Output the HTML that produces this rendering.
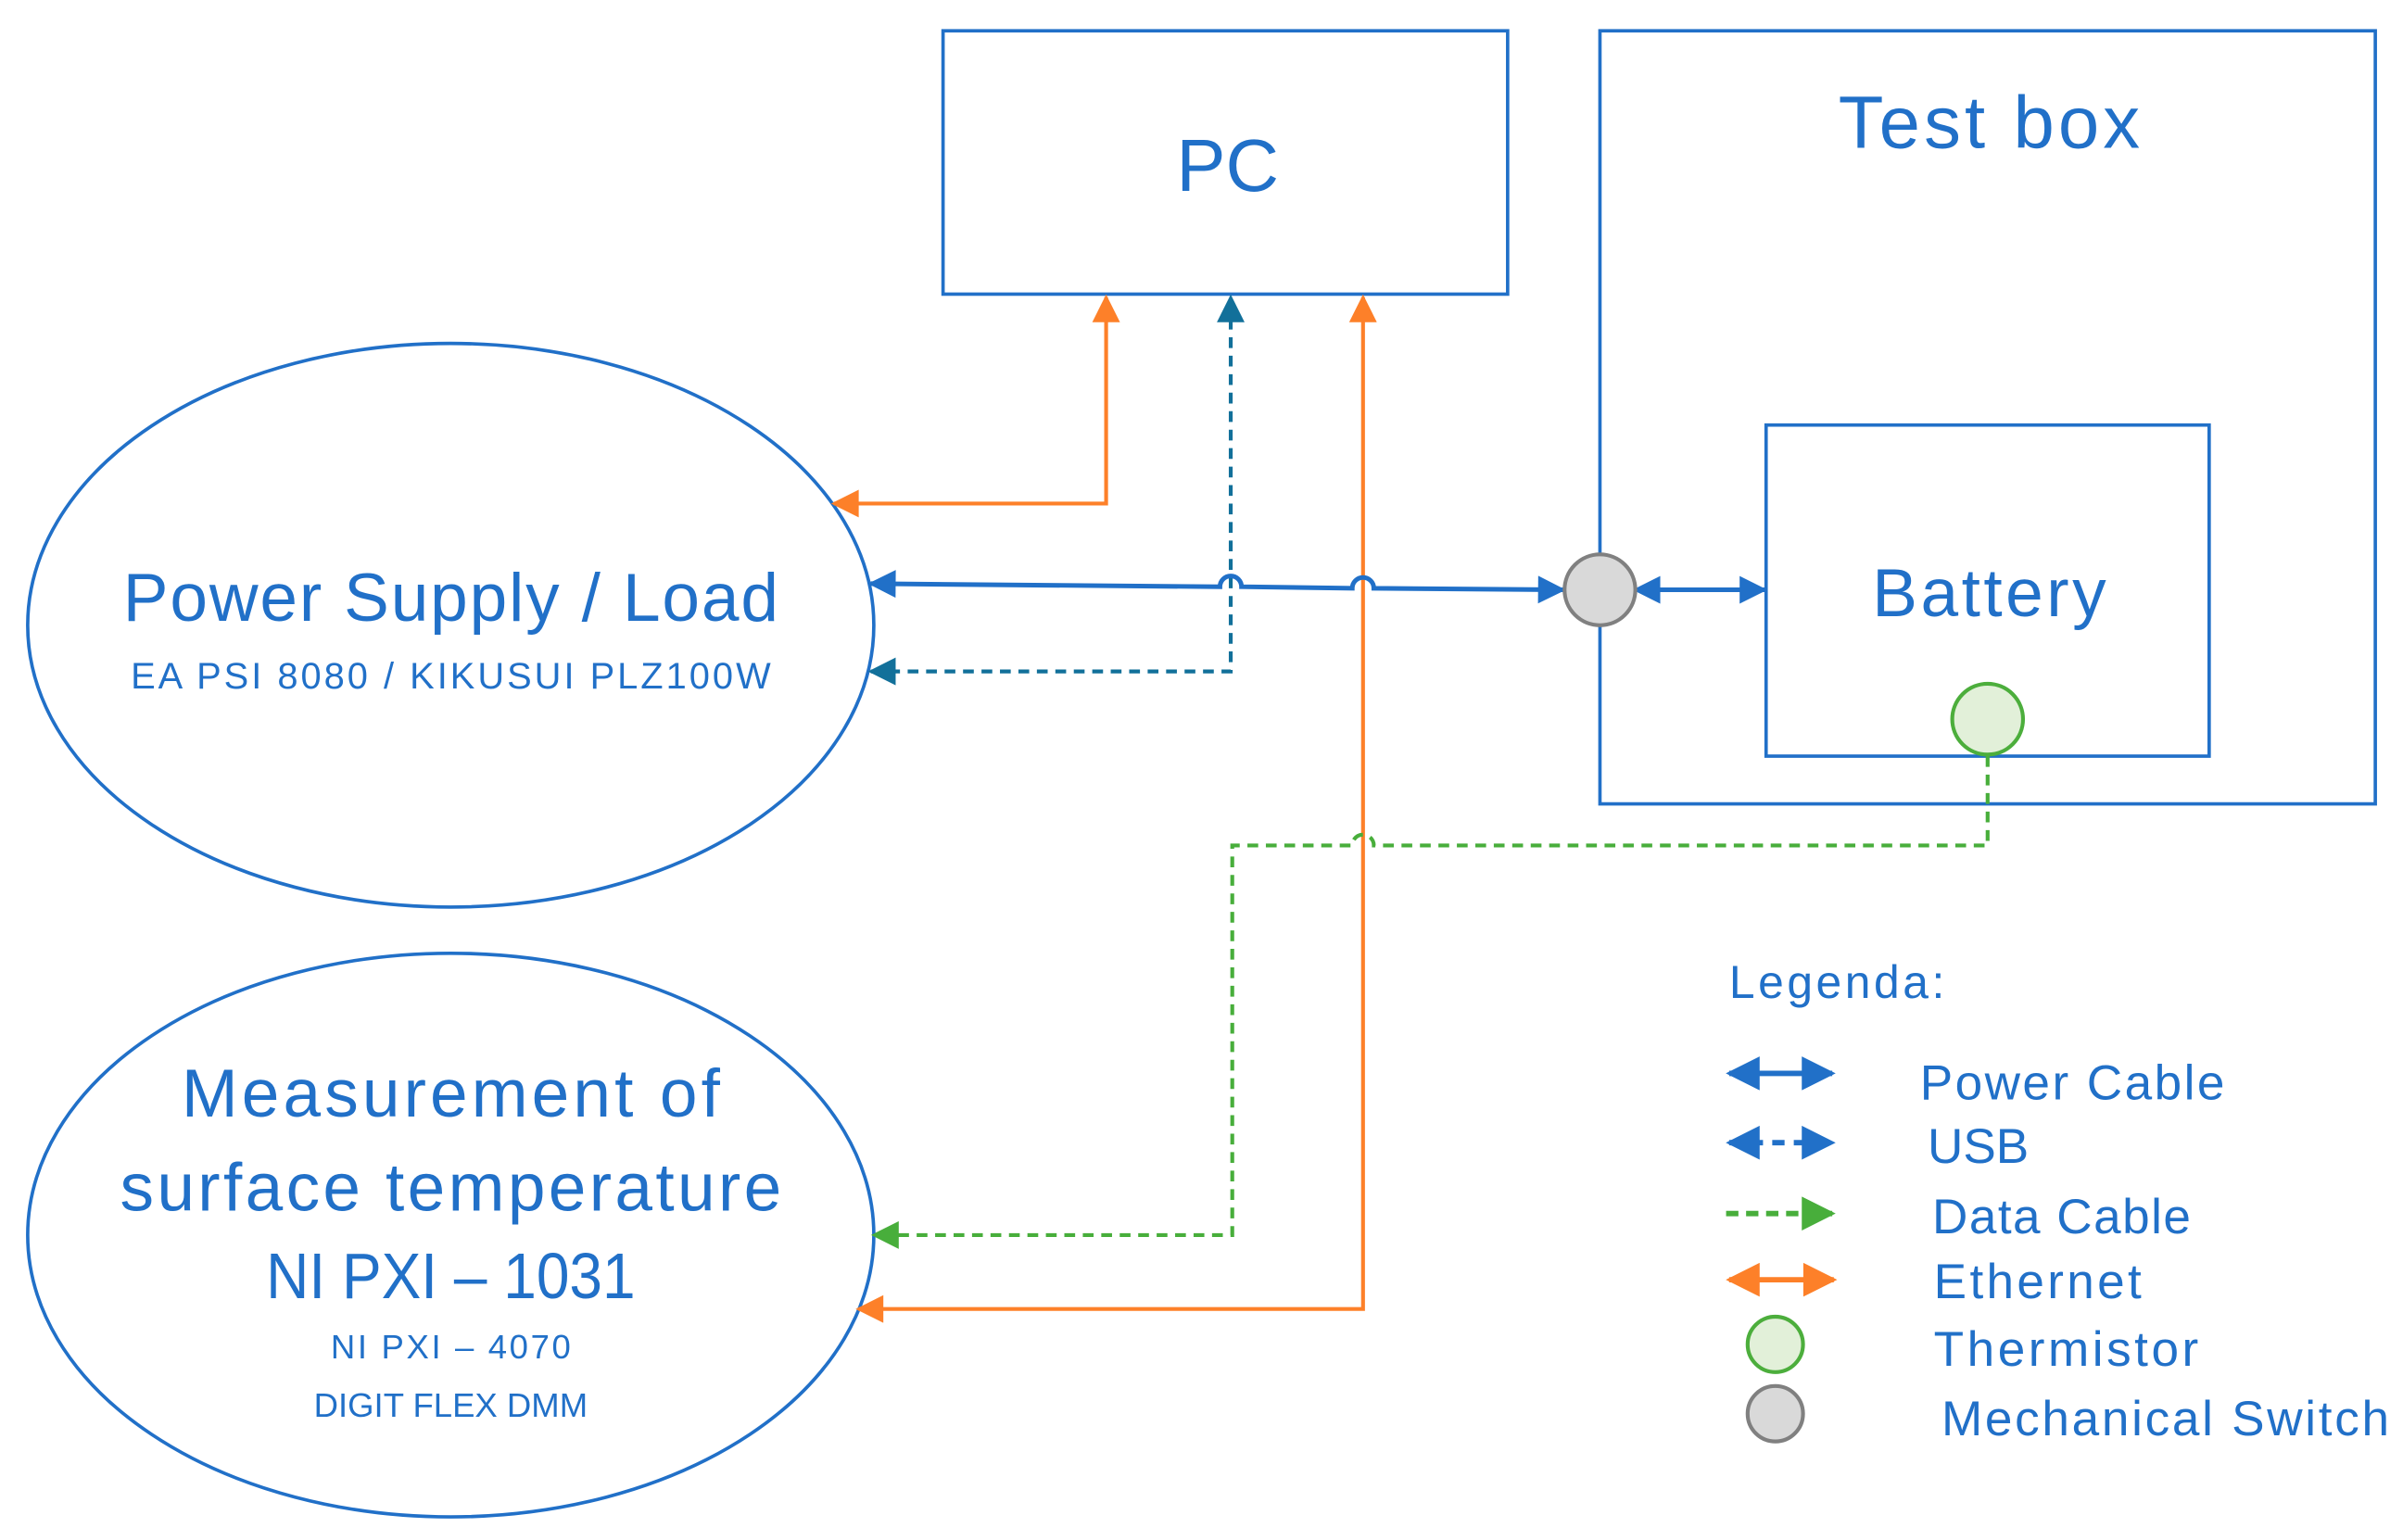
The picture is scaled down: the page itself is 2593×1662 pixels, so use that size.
<!DOCTYPE html>
<html><head><meta charset="utf-8"><style>html,body{margin:0;padding:0;background:#fff}svg{display:block}</style></head>
<body>
<svg width="2593" height="1662" viewBox="0 0 1562 1000" preserveAspectRatio="none" xmlns="http://www.w3.org/2000/svg" font-family="Liberation Sans, sans-serif" fill="#2170c8">
<defs>
<marker id="ab" viewBox="0 0 10 10" refX="9" refY="5" markerWidth="20" markerHeight="18" orient="auto-start-reverse" markerUnits="userSpaceOnUse"><path d="M0,0L10,5L0,10z" fill="#2170c8"/></marker>
<marker id="ao" viewBox="0 0 10 10" refX="9" refY="5" markerWidth="20" markerHeight="18" orient="auto-start-reverse" markerUnits="userSpaceOnUse"><path d="M0,0L10,5L0,10z" fill="#fd8029"/></marker>
<marker id="at" viewBox="0 0 10 10" refX="9" refY="5" markerWidth="20" markerHeight="18" orient="auto-start-reverse" markerUnits="userSpaceOnUse"><path d="M0,0L10,5L0,10z" fill="#12709a"/></marker>
<marker id="ag" viewBox="0 0 10 10" refX="9" refY="5" markerWidth="20" markerHeight="18" orient="auto-start-reverse" markerUnits="userSpaceOnUse"><path d="M0,0L10,5L0,10z" fill="#48ae3b"/></marker>
<marker id="lb" viewBox="0 0 10 10" refX="9" refY="5" markerWidth="24" markerHeight="22" orient="auto-start-reverse" markerUnits="userSpaceOnUse"><path d="M0,0L10,5L0,10z" fill="#2170c8"/></marker>
<marker id="lo" viewBox="0 0 10 10" refX="9" refY="5" markerWidth="24" markerHeight="22" orient="auto-start-reverse" markerUnits="userSpaceOnUse"><path d="M0,0L10,5L0,10z" fill="#fd8029"/></marker>
<marker id="lg" viewBox="0 0 10 10" refX="9" refY="5" markerWidth="24" markerHeight="22" orient="auto-start-reverse" markerUnits="userSpaceOnUse"><path d="M0,0L10,5L0,10z" fill="#48ae3b"/></marker>
</defs>
<g fill="none" stroke="#2170c8" stroke-width="2.2">
<rect x="613" y="20" width="367" height="171"/>
<rect x="1040" y="20" width="504" height="502"/>
<rect x="1148" y="276" width="288" height="215"/>
<ellipse cx="293" cy="406" rx="275" ry="183"/>
<ellipse cx="293" cy="802" rx="275" ry="183"/>
</g>
<g fill="none" stroke-width="2.5">
<path d="M542,327H719V193" stroke="#fd8029" marker-start="url(#ao)" marker-end="url(#ao)"/>
<path d="M566,436H800V193" stroke="#12709a" stroke-dasharray="7,5" marker-start="url(#at)" marker-end="url(#at)"/>
<path d="M558,850H886V193" stroke="#fd8029" marker-start="url(#ao)" marker-end="url(#ao)"/>
<path d="M566,379L793,381A7,7 0 0 1 807,381L879,382A7,7 0 0 1 893,382L1016,383" stroke="#2170c8" stroke-width="3" marker-start="url(#ab)" marker-end="url(#ab)"/>
<path d="M1063,383H1147" stroke="#2170c8" stroke-width="3" marker-start="url(#ab)" marker-end="url(#ab)"/>
<path d="M1292,491V549H893A7,7 0 0 0 879,549H801V802H568" stroke="#48ae3b" stroke-dasharray="7,5" marker-end="url(#ag)"/>
</g>
<circle cx="1040" cy="383" r="23" fill="#d9d9d9" stroke="#808080" stroke-width="2.5"/>
<circle cx="1292" cy="467" r="23" fill="#e2f0d9" stroke="#4cae3c" stroke-width="2.5"/>
<g text-anchor="middle">
<text x="798" y="124" font-size="48">PC</text>
<text x="1293" y="96" font-size="48" textLength="196">Test box</text>
<text x="1293" y="400" font-size="44" textLength="152">Battery</text>
<text x="293" y="403" font-size="44" textLength="426">Power Supply / Load</text>
<text x="293" y="447" font-size="24" textLength="416">EA PSI 8080 / KIKUSUI PLZ100W</text>
<text x="293" y="725" font-size="44" textLength="350">Measurement of</text>
<text x="293" y="786" font-size="44" textLength="430">surface temperature</text>
<text x="293" y="843" font-size="42" textLength="240" lengthAdjust="spacingAndGlyphs">NI PXI – 1031</text>
<text x="293" y="882" font-size="22" textLength="156">NI PXI – 4070</text>
<text x="293" y="920" font-size="22" textLength="178">DIGIT FLEX DMM</text>
</g>
<text x="1124" y="648" font-size="30" textLength="140">Legenda:</text>
<g stroke-width="3.5">
<path d="M1124,697H1191" stroke="#2170c8" marker-start="url(#lb)" marker-end="url(#lb)"/>
<path d="M1124,742H1191" stroke="#2170c8" stroke-dasharray="8,6" marker-start="url(#lb)" marker-end="url(#lb)"/>
<path d="M1122,788H1191" stroke="#48ae3b" stroke-dasharray="8,5" marker-end="url(#lg)"/>
<path d="M1124,831H1192" stroke="#fd8029" marker-start="url(#lo)" marker-end="url(#lo)"/>
</g>
<circle cx="1154" cy="873" r="18" fill="#e2f0d9" stroke="#4cae3c" stroke-width="2.5"/>
<circle cx="1154" cy="918" r="18" fill="#d9d9d9" stroke="#808080" stroke-width="2.5"/>
<g font-size="32">
<text x="1248" y="714" textLength="198">Power Cable</text>
<text x="1253" y="755">USB</text>
<text x="1256" y="801" textLength="168">Data Cable</text>
<text x="1257" y="843" textLength="135">Ethernet</text>
<text x="1257" y="887" textLength="172">Thermistor</text>
<text x="1262" y="932" textLength="291">Mechanical Switch</text>
</g>
</svg>
</body></html>
